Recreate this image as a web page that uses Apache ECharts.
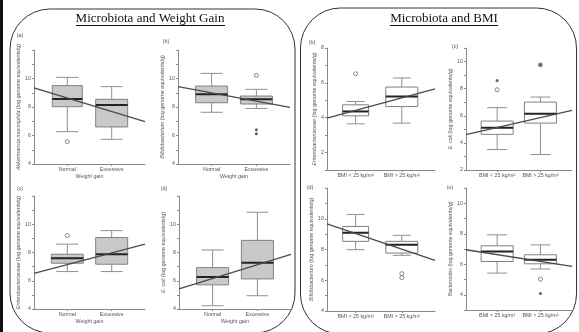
<!DOCTYPE html>
<html>
<head>
<meta charset="utf-8">
<title>Microbiota boxplots</title>
<script src="https://cdn.jsdelivr.net/npm/echarts/dist/echarts.min.js"></script>
<style>
  html, body { margin: 0; padding: 0; background: #ffffff; }
  #chart { width: 579px; height: 332px; }
</style>
</head>
<body>
<div id="chart"></div>
<script>
// categories
var weightCats = ['Normal', 'Excessive'];
var bmiCats = ['BMI < 25 kg/m\u00b2', 'BMI > 25 kg/m\u00b2'];

// box values per group: [x, min, Q1, median, Q3, max]
var wgAkkBox = [[1, 6.27, 8.02, 8.56, 9.50, 10.08], [2, 5.73, 6.60, 8.14, 8.54, 9.43]];
var wgBifBox = [[1, 7.63, 8.30, 8.89, 9.47, 10.36], [2, 7.90, 8.21, 8.54, 8.77, 9.24]];
var wgEntBox = [[1, 6.65, 7.24, 7.60, 7.88, 8.59], [2, 6.65, 7.17, 7.88, 9.06, 9.55]];
var wgEcoBox = [[1, 4.23, 5.71, 6.27, 6.93, 8.18], [2, 4.94, 6.13, 7.28, 8.86, 10.85]];
var bmiEntBox = [[1, 3.65, 4.11, 4.36, 4.74, 4.93], [2, 3.69, 4.64, 5.22, 5.76, 6.28]];
var bmiEcoBox = [[1, 3.51, 4.63, 5.12, 5.61, 6.60], [2, 3.14, 5.46, 6.15, 7.01, 7.38]];
var bmiBifBox = [[1, 7.99, 8.53, 9.09, 9.50, 10.28], [2, 7.62, 7.77, 8.31, 8.53, 8.92]];
var bmiBacBox = [[1, 5.42, 6.18, 6.84, 7.21, 7.93], [2, 5.69, 6.03, 6.29, 6.62, 7.27]];

// outliers: open circles and filled dots, [x, value]
var wgAkkOpen = [[1, 5.57]];
var wgBifOpen = [[2, 10.22]];
var wgBifDot = [[2, 6.41], [2, 6.13]];
var wgEntOpen = [[1, 9.2]];
var bmiEntOpen = [[1, 6.52]];
var bmiEcoOpen = [[1, 7.92], [2, 9.76]];
var bmiEcoDot = [[1, 8.6], [2, 9.76]];
var bmiBifOpen = [[2, 6.43], [2, 6.17]];
var bmiBacOpen = [[2, 5.03]];
var bmiBacDot = [[2, 4.09]];

// trend lines: [x, value] at both ends of the x axis
var wgAkkTrend = [[0.25, 9.35], [2.75, 6.97]];
var wgBifTrend = [[0.25, 9.43], [2.75, 7.98]];
var wgEntTrend = [[0.25, 6.53], [2.75, 8.59]];
var wgEcoTrend = [[0.25, 5.43], [2.75, 7.87]];
var bmiEntTrend = [[0.38, 3.98], [2.72, 5.66]];
var bmiEcoTrend = [[0.28, 4.61], [2.73, 6.40]];
var bmiBifTrend = [[0.38, 9.67], [2.72, 7.29]];
var bmiBacTrend = [[0.28, 6.95], [2.73, 5.86]];

// y tick labels
var ticks4to10 = [4, 6, 8, 10];
var ticks2to8 = [2, 4, 6, 8];
var ticks2to10 = [2, 4, 6, 8, 10];

// panel layout
var panels = [
  { grid: [34, 50, 111, 114], x: [0.25, 2.75], y: [4, 12], labels: ticks4to10, cats: weightCats, xName: 'Weight gain',
    genus: 'Akkermansia muciniphila', box: wgAkkBox, open: wgAkkOpen, dot: [], trend: wgAkkTrend, fill: '#c9c9c9', hw: [15, 16], cap: 11, nameGap: 11 },
  { grid: [178, 50, 112, 114], x: [0.25, 2.75], y: [4, 12], labels: ticks4to10, cats: weightCats, xName: 'Weight gain',
    genus: 'Bifidobacterium', box: wgBifBox, open: wgBifOpen, dot: wgBifDot, trend: wgBifTrend, fill: '#c9c9c9', hw: [16, 16], cap: 11, nameGap: 8 },
  { grid: [34, 196, 111, 113], x: [0.25, 2.75], y: [4, 12], labels: ticks4to10, cats: weightCats, xName: 'Weight gain',
    genus: 'Enterobacteriaceae', box: wgEntBox, open: wgEntOpen, dot: [], trend: wgEntTrend, fill: '#c9c9c9', hw: [16, 16], cap: 11, nameGap: 11 },
  { grid: [179, 196, 112, 113], x: [0.25, 2.75], y: [4, 12], labels: ticks4to10, cats: weightCats, xName: 'Weight gain',
    genus: 'E. coli', box: wgEcoBox, open: [], dot: [], trend: wgEcoTrend, fill: '#c9c9c9', hw: [16, 16], cap: 11, nameGap: 8 },
  { grid: [327, 48, 108, 122], x: [0.38, 2.72], y: [1, 8], labels: ticks2to8, cats: bmiCats, xName: '',
    genus: 'Enterobacteriaceae', box: bmiEntBox, open: bmiEntOpen, dot: [], trend: bmiEntTrend, fill: '#ffffff', hw: [13, 16], cap: 9, nameGap: 6 },
  { grid: [466, 48, 106, 122], x: [0.28, 2.73], y: [2, 11], labels: ticks2to10, cats: bmiCats, xName: '',
    genus: 'E. coli', box: bmiEcoBox, open: bmiEcoOpen, dot: bmiEcoDot, trend: bmiEcoTrend, fill: '#ffffff', hw: [16, 16], cap: 10, nameGap: 8 },
  { grid: [327, 188, 108, 123], x: [0.38, 2.72], y: [4, 12], labels: ticks4to10, cats: bmiCats, xName: '',
    genus: 'Bifidobacterium', box: bmiBifBox, open: bmiBifOpen, dot: [], trend: bmiBifTrend, fill: '#ffffff', hw: [13, 16], cap: 9, nameGap: 6 },
  { grid: [466, 188, 106, 122], x: [0.28, 2.73], y: [3, 11], labels: ticks4to10, cats: bmiCats, xName: '',
    genus: 'Bacteroides', box: bmiBacBox, open: bmiBacOpen, dot: bmiBacDot, trend: bmiBacTrend, fill: '#ffffff', hw: [16, 16], cap: 10, nameGap: 9 }
];

var panelTags = [['(a)', 20, 36], ['(b)', 166, 42], ['(c)', 20, 189], ['(d)', 164, 189],
                 ['(b)', 312, 43], ['(c)', 455, 47], ['(d)', 310, 188], ['(e)', 450, 188]];

var axisGray = '#8a8a8a';
var textGray = '#555555';
var tiny = 5.3;
var nameSize = 5.4;

// draws one box with whiskers and a dark median
function boxRenderer(p) {
  return function (params, api) {
    var x = api.value(0);
    var lo = api.coord([x, api.value(1)]);
    var q1 = api.coord([x, api.value(2)]);
    var md = api.coord([x, api.value(3)]);
    var q3 = api.coord([x, api.value(4)]);
    var hi = api.coord([x, api.value(5)]);
    var cx = lo[0];
    var hw = p.hw[params.dataIndex];
    var ws = { stroke: '#909090', lineWidth: 1 };
    return {
      type: 'group',
      children: [
        { type: 'line', shape: { x1: cx, y1: hi[1], x2: cx, y2: q3[1] }, style: ws },
        { type: 'line', shape: { x1: cx, y1: q1[1], x2: cx, y2: lo[1] }, style: ws },
        { type: 'line', shape: { x1: cx - p.cap, y1: hi[1], x2: cx + p.cap, y2: hi[1] }, style: ws },
        { type: 'line', shape: { x1: cx - p.cap, y1: lo[1], x2: cx + p.cap, y2: lo[1] }, style: ws },
        { type: 'rect', shape: { x: cx - hw, y: q3[1], width: hw * 2, height: q1[1] - q3[1] },
          style: { fill: p.fill, stroke: '#808080', lineWidth: 1 } },
        { type: 'line', shape: { x1: cx - hw, y1: md[1], x2: cx + hw, y2: md[1] },
          style: { stroke: '#222222', lineWidth: 2 } }
      ]
    };
  };
}

var grids = [], xAxes = [], yAxes = [], series = [];

panels.forEach(function (p, i) {
  grids.push({ left: p.grid[0], top: p.grid[1], width: p.grid[2], height: p.grid[3] });
  xAxes.push({
    gridIndex: i, type: 'value', min: p.x[0], max: p.x[1],
    name: p.xName, nameLocation: 'middle', nameGap: 10,
    nameTextStyle: { fontSize: tiny, color: textGray, fontFamily: 'Liberation Sans' },
    axisLine: { lineStyle: { color: axisGray, width: 1 } },
    axisTick: { show: true, customValues: [1, 2], length: 2, lineStyle: { color: axisGray } },
    axisLabel: {
      customValues: [1, 2], fontSize: tiny, color: textGray, margin: 3, fontFamily: 'Liberation Sans',
      formatter: function (v) { return v < 1.5 ? p.cats[0] : p.cats[1]; }
    },
    splitLine: { show: false }
  });
  yAxes.push({
    gridIndex: i, type: 'value', min: p.y[0], max: p.y[1], interval: 1,
    name: '{i|' + p.genus + '} (log genome equivalents/g)', nameLocation: 'middle', nameRotate: 90, nameGap: p.nameGap,
    nameTextStyle: {
      fontSize: nameSize, color: textGray, fontFamily: 'Liberation Sans',
      rich: { i: { fontSize: nameSize, color: textGray, fontStyle: 'italic', fontFamily: 'Liberation Sans' } }
    },
    axisLine: { show: true, lineStyle: { color: axisGray, width: 1 } },
    axisTick: { show: true, length: 2, lineStyle: { color: axisGray } },
    axisLabel: { customValues: p.labels, fontSize: tiny, color: textGray, margin: 3, fontFamily: 'Liberation Sans' },
    splitLine: { show: false }
  });
  series.push({
    type: 'custom', xAxisIndex: i, yAxisIndex: i, data: p.box,
    renderItem: boxRenderer(p), silent: true, z: 2
  });
  series.push({
    type: 'line', xAxisIndex: i, yAxisIndex: i, data: p.trend, symbol: 'none', silent: true, z: 5,
    lineStyle: { color: '#4a4a4a', width: 1.3 }
  });
  series.push({
    type: 'scatter', xAxisIndex: i, yAxisIndex: i, data: p.open, symbol: 'circle', symbolSize: 4, silent: true, z: 4,
    itemStyle: { color: '#ffffff', borderColor: '#6a6a6a', borderWidth: 1 }
  });
  series.push({
    type: 'scatter', xAxisIndex: i, yAxisIndex: i, data: p.dot, symbol: 'circle', symbolSize: 3, silent: true, z: 4,
    itemStyle: { color: '#3a3a3a' }
  });
});

// frames, titles and panel letters
var graphics = [
  { type: 'rect', shape: { x: 0, y: 0, width: 3, height: 332 }, style: { fill: '#111111' } },
  { type: 'rect', shape: { x: 10, y: 9, width: 285, height: 324, r: 40 }, style: { fill: 'none', stroke: '#333333', lineWidth: 1 } },
  { type: 'rect', shape: { x: 300.5, y: 8, width: 276, height: 326, r: 40 }, style: { fill: 'none', stroke: '#333333', lineWidth: 1 } },
  { type: 'text', x: 150, y: 19, style: { text: 'Microbiota and Weight Gain', font: '13px "Liberation Serif"', fill: '#111111', align: 'center', verticalAlign: 'middle' } },
  { type: 'line', shape: { x1: 76, y1: 25.5, x2: 225, y2: 25.5 }, style: { stroke: '#111111', lineWidth: 1 } },
  { type: 'text', x: 444, y: 19, style: { text: 'Microbiota and BMI', font: '13px "Liberation Serif"', fill: '#111111', align: 'center', verticalAlign: 'middle' } },
  { type: 'line', shape: { x1: 390, y1: 25.5, x2: 498, y2: 25.5 }, style: { stroke: '#111111', lineWidth: 1 } }
];
panelTags.forEach(function (t) {
  graphics.push({ type: 'text', x: t[1], y: t[2], style: { text: t[0], font: tiny + 'px "Liberation Sans"', fill: textGray, align: 'center', verticalAlign: 'middle' } });
});

var chart = echarts.init(document.getElementById('chart'), null, { renderer: 'canvas' });
chart.setOption({
  backgroundColor: '#ffffff',
  animation: false,
  grid: grids,
  xAxis: xAxes,
  yAxis: yAxes,
  series: series,
  graphic: graphics
});
</script>
</body>
</html>
